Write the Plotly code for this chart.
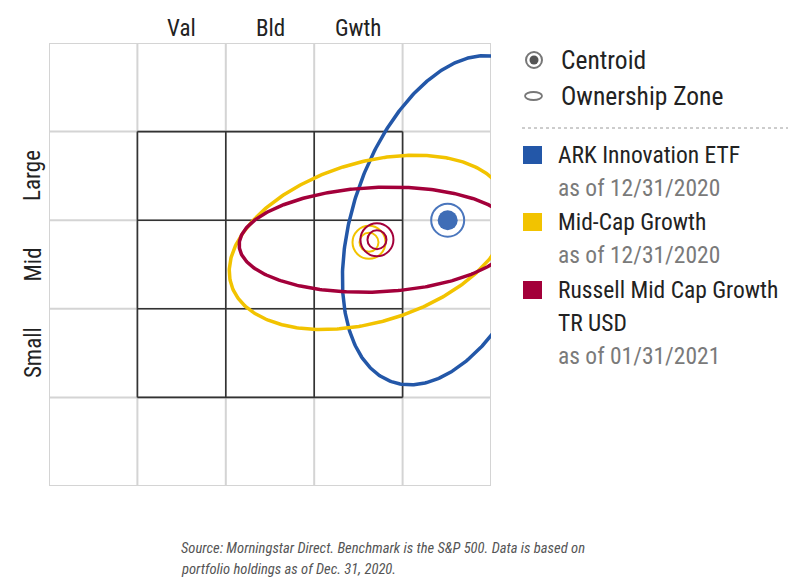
import numpy as np
import plotly.graph_objects as go

W, H = 792, 587

# ---- Style box layout ----
style_cols = ["Val", "Bld", "Gwth"]
size_rows = ["Large", "Mid", "Small"]
grid_lines = [0, 1, 2, 3, 4, 5]          # outer light grid (5 x 5 cells)
box_lines = [1, 2, 3, 4]                 # 3 x 3 style box

# ---- Portfolios: centroid and ownership zone ----
names = ["ARK Innovation ETF", "Mid-Cap Growth", "Russell Mid Cap Growth"]
name_lines = [["ARK Innovation ETF"], ["Mid-Cap Growth"], ["Russell Mid Cap Growth", "TR USD"]]
as_of = ["as of 12/31/2020", "as of 12/31/2020", "as of 01/31/2021"]
colors = ["#2357a8", "#f2c300", "#a3003a"]
centroid_x = [4.51, 3.62, 3.71]
centroid_y = [3.00, 2.75, 2.78]
zone_a = [1.93, 1.63, 1.56]      # semi-major axis (cells)
zone_b = [1.07, 0.90, 0.59]      # semi-minor axis (cells)
zone_angle = [71.0, 17.0, 2.5]   # major axis angle, degrees

source_lines = [
    "Source: Morningstar Direct. Benchmark is the S&P 500. Data is based on",
    "portfolio holdings as of Dec. 31, 2020.",
]

FONT = "Liberation Sans Narrow, Roboto Condensed, Arial Narrow, Roboto, sans-serif"

# plot-area placement in pixels
X0, X1, Y0, Y1 = 49, 491, 43, 486


def px(x):
    return x / W


def py(y):
    return 1 - y / H


fig = go.Figure()

# ownership zones
t = np.linspace(0, 2 * np.pi, 400)
for cx, cy, a, b, ang, col, nm in zip(centroid_x, centroid_y, zone_a, zone_b,
                                      zone_angle, colors, names):
    th = np.deg2rad(ang)
    ex = cx + a * np.cos(t) * np.cos(th) - b * np.sin(t) * np.sin(th)
    ey = cy + a * np.cos(t) * np.sin(th) + b * np.sin(t) * np.cos(th)
    fig.add_trace(go.Scatter(x=ex, y=ey, mode="lines", name=nm,
                             line=dict(color=col, width=3.5),
                             hoverinfo="skip", showlegend=False))

# centroids: outer ring plus inner dot (filled for the fund, open for the others)
for i, (cx, cy, col) in enumerate(zip(centroid_x, centroid_y, colors)):
    ring_col = "#4a76bd" if i == 0 else col
    fig.add_trace(go.Scatter(x=[cx], y=[cy], mode="markers", showlegend=False,
                             marker=dict(symbol="circle-open", size=33,
                                         line=dict(color=ring_col, width=2),
                                         color=ring_col)))
    if i == 0:
        fig.add_trace(go.Scatter(x=[cx], y=[cy], mode="markers", showlegend=False,
                                 marker=dict(symbol="circle", size=20,
                                             color="#3f6db6",
                                             line=dict(width=0))))
    else:
        fig.add_trace(go.Scatter(x=[cx], y=[cy], mode="markers", showlegend=False,
                                 marker=dict(symbol="circle-open", size=19,
                                             line=dict(color=col, width=2),
                                             color=col)))

shapes = []
# light outer grid
for g in grid_lines:
    shapes.append(dict(type="line", xref="x", yref="y", x0=g, x1=g, y0=0, y1=5,
                       line=dict(color="#d4d4d4", width=2), layer="below"))
    shapes.append(dict(type="line", xref="x", yref="y", x0=0, x1=5, y0=g, y1=g,
                       line=dict(color="#d4d4d4", width=2), layer="below"))
# dark style box
for g in box_lines:
    shapes.append(dict(type="line", xref="x", yref="y", x0=g, x1=g, y0=1, y1=4,
                       line=dict(color="#333333", width=1.6), layer="below"))
    shapes.append(dict(type="line", xref="x", yref="y", x0=1, x1=4, y0=g, y1=g,
                       line=dict(color="#333333", width=1.6), layer="below"))

annotations = []
for i, lab in enumerate(style_cols):
    annotations.append(dict(x=1.5 + i, y=py(28), xref="x", yref="paper", text=lab,
                            showarrow=False, xanchor="center", yanchor="middle",
                            font=dict(family=FONT, size=23, color="#222222")))
for i, lab in enumerate(size_rows):
    annotations.append(dict(x=px(33), y=3.5 - i, xref="paper", yref="y", text=lab,
                            showarrow=False, textangle=-90, xanchor="center",
                            yanchor="middle",
                            font=dict(family=FONT, size=23, color="#222222")))

# ---- key ----
TX = 557
# centroid symbol
shapes.append(dict(type="circle", xref="paper", yref="paper",
                   x0=px(526), x1=px(542), y0=py(52), y1=py(68),
                   line=dict(color="#777777", width=2), fillcolor="white"))
shapes.append(dict(type="circle", xref="paper", yref="paper",
                   x0=px(529.5), x1=px(538.5), y0=py(55.5), y1=py(64.5),
                   line=dict(width=0), fillcolor="#555555"))
# ownership zone symbol
shapes.append(dict(type="circle", xref="paper", yref="paper",
                   x0=px(525), x1=px(542), y0=py(92), y1=py(100),
                   line=dict(color="#777777", width=1.8)))
annotations.append(dict(x=px(TX + 2), y=py(60), xref="paper", yref="paper", text="Centroid",
                        showarrow=False, xanchor="left", yanchor="middle",
                        font=dict(family=FONT, size=25.5, color="#222222")))
annotations.append(dict(x=px(TX + 2), y=py(96), xref="paper", yref="paper",
                        text="Ownership Zone", showarrow=False, xanchor="left",
                        yanchor="middle",
                        font=dict(family=FONT, size=25.5, color="#222222")))
# separator
shapes.append(dict(type="line", xref="paper", yref="paper", x0=px(522), x1=px(788),
                   y0=py(128), y1=py(128), line=dict(color="#9a9a9a", width=1, dash="dot")))

row_y = [155, 222, 290]
for nm_lines, sub, col, ry in zip(name_lines, as_of, colors, row_y):
    shapes.append(dict(type="rect", xref="paper", yref="paper",
                       x0=px(523), x1=px(542), y0=py(ry - 9), y1=py(ry + 9),
                       line=dict(width=0), fillcolor=col))
    yy = ry
    for ln in nm_lines:
        annotations.append(dict(x=px(TX - 1), y=py(yy), xref="paper", yref="paper", text=ln,
                                showarrow=False, xanchor="left", yanchor="middle",
                                font=dict(family=FONT, size=23.5, color="#222222")))
        yy += 33
    annotations.append(dict(x=px(TX - 1), y=py(yy), xref="paper", yref="paper", text=sub,
                            showarrow=False, xanchor="left", yanchor="middle",
                            font=dict(family=FONT, size=23.5, color="#7a7a7a")))

# source note
for k, ln in enumerate(source_lines):
    annotations.append(dict(x=px(179), y=py(548 + 21 * k), xref="paper", yref="paper",
                            text=ln, showarrow=False, xanchor="left", yanchor="middle",
                            font=dict(family=FONT, size=14.6, color="#555555",
                                      style="italic")))

fig.update_layout(
    width=W, height=H,
    margin=dict(l=0, r=0, t=0, b=0),
    paper_bgcolor="white", plot_bgcolor="white",
    showlegend=False,
    xaxis=dict(domain=[px(X0), px(X1)], range=[0, 5], visible=False, fixedrange=True),
    yaxis=dict(domain=[py(Y1), py(Y0)], range=[0, 5], visible=False, fixedrange=True),
    shapes=shapes,
    annotations=annotations,
)

fig.write_html("out.html")
